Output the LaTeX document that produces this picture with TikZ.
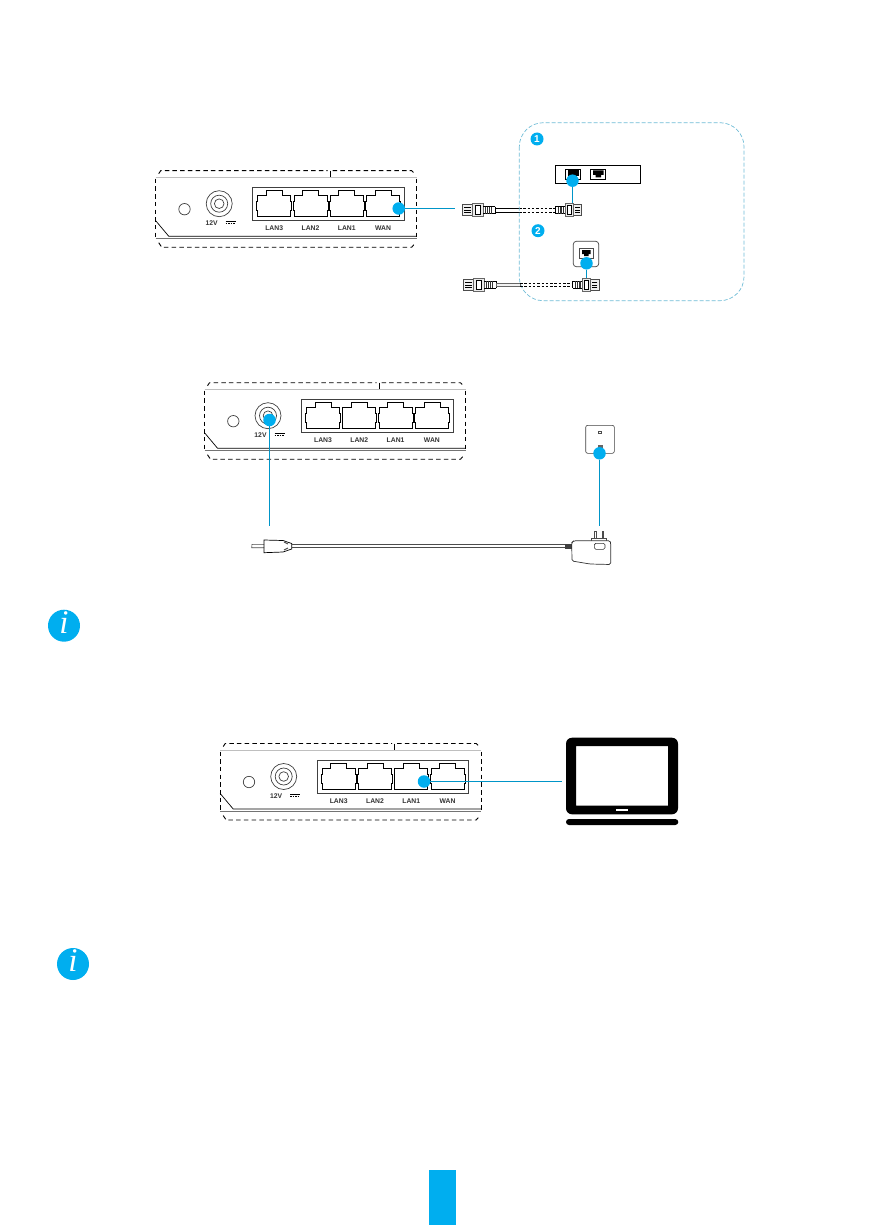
\documentclass[tikz,border=0pt]{standalone}
\usepackage{fontspec}
\setsansfont{Liberation Sans}
\setmainfont{Liberation Serif}
\usetikzlibrary{positioning}
\definecolor{ezblue}{HTML}{00AEEF}
\definecolor{ezline}{HTML}{0095C8}
\definecolor{ezdash}{HTML}{6FBCD6}
\tikzset{
	dashline/.style={line width=0.9pt, black, dash pattern=on 4.5pt off 3.2pt},
	thinframe/.style={line width=0.7pt, black!75},
	portlabel/.style={inner sep=0pt, font=\sffamily\bfseries\fontsize{6.8}{7}\selectfont, text=black!80},
	bluedot/.style={circle, fill=ezblue, inner sep=0pt, minimum size=12.5pt},
	numdot/.style={circle, fill=ezblue, inner sep=0pt, minimum size=13pt, text=white, font=\sffamily\bfseries\fontsize{10}{10}\selectfont},
	infodot/.style={circle, fill=ezblue, inner sep=0pt, minimum size=32pt, text=white, text depth=6pt, font=\rmfamily\itshape\fontsize{33}{33}\selectfont},
	bluewire/.style={line width=1.3pt, ezline},
	ethport/.pic={
		\draw[line width=0.8pt] (-16.5,15.5) -- (-16.5,9) -- (-17.4,9) -- (-17.4,0) -- (-16.5,0) -- (-16.5,-6) -- (-8,-6) -- (-8,-11)
			-- (8,-11) -- (8,-6) -- (16.5,-6) -- (16.5,0) -- (17.4,0) -- (17.4,9) -- (16.5,9) -- (16.5,15.5) -- cycle;
	},
	router/.pic={
		% body, coordinates from the top left corner
		\draw[dashline] (3,3) -- (5,0) -- (172,0) (177,0) -- (256,0) -- (259,3);
		\draw[line width=0.7pt] (174.5,0) -- (174.5,7);
		\draw[line width=0.5pt, black!25] (0,7) -- (261,7);
		\draw[dashline] (0,8) -- (0,67);
		\draw[dashline] (261,8) -- (261,66);
		\draw[line width=0.7pt] (0,50) -- (13,65.5) -- (261,65.5);
		\draw[line width=0.7pt, black!55] (0,68) -- (261,68);
		\draw[dashline] (3,72) -- (6,76.5) -- (256,76.5) -- (259,73);
		\draw[thinframe] (28.8,38.5) circle (5.7);
		\draw[thinframe] (63.5,33) circle (13) circle (8.5) circle (4.8);
		\node[portlabel] at (56,52.5) {12V};
		\draw[line width=0.5pt] (70,50.5) -- (80,50.5);
		\draw[line width=0.5pt, dash pattern=on 1.5pt off 1pt] (70,53) -- (80,53);
		\draw[thinframe] (97,17) rectangle (248.5,50);
		\foreach \px/\plab in {118.5/LAN3, 154.8/LAN2, 191.1/LAN1, 227.4/WAN}{
			\pic at (\px,30.5) {ethport};
			\node[portlabel] at (\px,57.8) {\plab};
		}
	},
	% cable end with the head on the left
	rjplug/.pic={
		\draw[line width=0.5pt, black!70, fill=black!6] (0,-5.5) rectangle (10.5,5.5);
		\draw[line width=0.4pt] (2,-2.5) -- (8.5,-2.5) (2,0) -- (8.5,0) (2,2.5) -- (8.5,2.5);
		\draw[line width=0.5pt, black!60, fill=black!8] (10.5,-6.5) rectangle (21,6.5);
		\draw[line width=0.7pt, fill=white] (13,-4.5) rectangle (18.5,4.5);
		\draw[line width=0.6pt] (21,-3.5) -- (33,-3.5) (21,3.5) -- (33,3.5) (33,-3.5) -- (33,3.5);
		\foreach \hx in {23,25,27,29}
			\draw[line width=1pt, black!80] (\hx,-3.5) -- (\hx,3.5);
	},
}
\begin{document}
\begin{tikzpicture}[x=1pt, y=-1pt]
	\useasboundingbox (0,0) rectangle (884,1225);

	% first router and cable
	\pic at (155.7,170.7) {router};
	\node[bluedot] (wandot) at (398.7,208.5) {};
	\coordinate (wanend) at (455,208.5);
	\draw[bluewire] (wandot) -- (wanend);

	\pic at (462,210) {rjplug};
	\draw[line width=0.8pt] (495,208.2) -- (519,208.2) (495,212) -- (519,212);
	\draw[line width=0.7pt, dash pattern=on 2.5pt off 1.8pt] (519,208.2) -- (555.5,208.2) (519,212) -- (555.5,212);
	\pic[xscale=-0.8] at (581.7,210) {rjplug};

	\draw[ezdash, line width=0.7pt, dash pattern=on 4pt off 2pt, rounded corners=24pt] (519.3,122.7) rectangle (744,300.7);
	\node[numdot] (numone) at (537,139) {1};
	\node[numdot] (numtwo) at (538,230.7) {2};

	% wall panel with two sockets
	\draw[line width=0.8pt] (555.3,165.3) rectangle (640.7,183.3);
	\draw[line width=0.7pt] (565.3,169.3) rectangle (580.7,179.3);
	\draw[line width=0.7pt] (590.7,169.3) rectangle (605.7,179.3);
	\fill (567.5,170.5) rectangle (578.5,176.5);
	\fill (593,170.5) -- (603.5,170.5) -- (603.5,175) -- (601,175) -- (601,177.5) -- (595.5,177.5) -- (595.5,175) -- (593,175) -- cycle;
	\node[bluedot] (paneldot) at (572.5,180.7) {};
	\coordinate (panelend) at (572.5,203);
	\draw[bluewire] (paneldot) -- (panelend);

	% second cable and wall plate
	\pic at (463,284.7) {rjplug};
	\draw[line width=0.6pt, black!60, fill=black!5] (496,283) rectangle (520,286.5);
	\draw[line width=0.7pt, dash pattern=on 2.5pt off 1.8pt] (520,283) -- (572.5,283) (520,286.5) -- (572.5,286.5);
	\pic[xscale=-0.8] at (599,284.7) {rjplug};
	\draw[line width=0.7pt, black!75, rounded corners=3pt] (573.3,241.3) rectangle (598.7,266.7);
	\draw[line width=0.7pt, black!70] (579,248.3) rectangle (593.3,258.3);
	\fill (582,250) -- (590.5,250) -- (590.5,254) -- (588.5,254) -- (588.5,256) -- (584,256) -- (584,254) -- (582,254) -- cycle;
	\node[bluedot] (platedot) at (586.5,263.3) {};
	\coordinate (plateend) at (586.5,278);
	\draw[bluewire] (platedot) -- (plateend);

	% second router and power adapter
	\pic at (204.5,382.7) {router};
	\node[bluedot] (powerdot) at (269.5,420) {};
	\coordinate (powerend) at (269.5,526);
	\draw[bluewire] (powerdot) -- (powerend);

	\draw[line width=0.6pt, black!70] (264,544.3) -- (252,544.3) -- (251.7,547.7) -- (264,547.7);
	\draw[line width=0.7pt] (264,540) -- (283,540.5) -- (291.7,543.5) -- (291.7,549) -- (283,552) -- (264,552.7) -- cycle;
	\draw[line width=1pt, black!70] (284,542) -- (288,544) (284,550) -- (288,548);
	\draw[line width=0.6pt, black!70] (291.7,544.7) -- (565,544.7) (291.7,547.3) -- (565,547.3);
	\fill[black!75] (564.5,544) rectangle (571.5,548.5);
	\draw[line width=0.7pt, black!80, rounded corners=1.5pt] (571.7,542.5) -- (574,540.7) -- (610,540.7) -- (610.7,543) -- (610.7,564.5) -- (590,564) -- (572,561) -- cycle;
	\draw[line width=0.6pt, black!80, rounded corners=1.5pt] (594.3,543.3) rectangle (605,549.3);
	\draw[line width=0.6pt, black!70] (591.5,540.7) -- (591.5,538.3) -- (606.5,538.3) -- (606.5,540.7);
	\draw[line width=0.8pt, black!70] (594.8,538.3) -- (594.8,531.7) -- (596,531.7) -- (596,538.3);
	\draw[line width=0.8pt, black!70] (602.2,538.3) -- (602.2,531.7) -- (603.4,531.7) -- (603.4,538.3);
	\draw[line width=0.6pt, black!75, rounded corners=2pt] (585.7,425.3) rectangle (614.3,453.3);
	\draw[line width=0.5pt, black!70] (598.3,431) rectangle (601.7,433.7);
	\fill[black!60] (597.7,445) rectangle (602.7,448.5);
	\node[bluedot] (socketdot) at (599.5,453.3) {};
	\coordinate (socketend) at (599.5,526);
	\draw[bluewire] (socketdot) -- (socketend);

	\node[infodot] (infoone) at (64,625.7) {i};

	% third router and laptop
	\pic at (220.2,743.5) {router};
	\node[bluedot] (landot) at (424,781.5) {};
	\coordinate (lanend) at (561.7,781.5);
	\draw[bluewire] (landot) -- (lanend);

	\fill[rounded corners=6pt, even odd rule] (566,737.7) rectangle (678,814.3)
		[sharp corners] (576,746) rectangle (668,805.7);
	\fill[white] (616,809) rectangle (628.3,811);
	\fill[rounded corners=3pt] (566,819) rectangle (678.3,825);

	\node[infodot] (infotwo) at (73,964) {i};

	% page tab
	\fill[ezblue] (429,1170) rectangle (456,1225);
\end{tikzpicture}
\end{document}
